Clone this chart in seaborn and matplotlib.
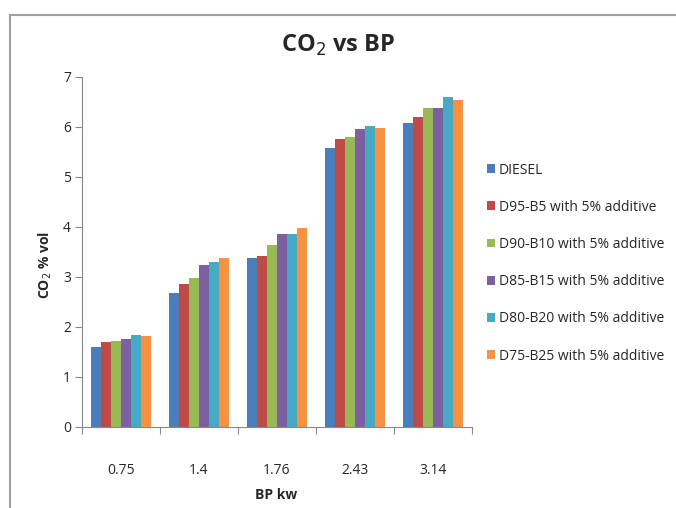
import matplotlib
matplotlib.use("Agg")
import matplotlib.pyplot as plt
import seaborn as sns
import pandas as pd
from matplotlib.patches import Rectangle

bp_labels = ["0.75", "1.4", "1.76", "2.43", "3.14"]
series_names = ["DIESEL", "D95-B5 with 5% additive", "D90-B10 with 5% additive",
                "D85-B15 with 5% additive", "D80-B20 with 5% additive",
                "D75-B25 with 5% additive"]
diesel = [1.61, 2.69, 3.39, 5.59, 6.09]
d95_b5 = [1.70, 2.87, 3.43, 5.77, 6.21]
d90_b10 = [1.73, 2.98, 3.65, 5.81, 6.39]
d85_b15 = [1.76, 3.24, 3.86, 5.96, 6.39]
d80_b20 = [1.85, 3.31, 3.86, 6.02, 6.61]
d75_b25 = [1.82, 3.39, 3.99, 5.99, 6.55]
colors = ["#4A7EBB", "#BE4B48", "#98B954", "#7D60A0", "#46AAC5", "#F69240"]

values = [diesel, d95_b5, d90_b10, d85_b15, d80_b20, d75_b25]
rows = []
for name, vals in zip(series_names, values):
    for bp, v in zip(bp_labels, vals):
        rows.append({"BP": bp, "Fuel": name, "CO2": v})
df = pd.DataFrame(rows)

sns.set_style("white")
plt.rcParams["font.family"] = ["Open Sans", "DejaVu Sans"]

fig = plt.figure(figsize=(6.76, 5.08), dpi=100)
ax = fig.add_axes([82/676, 1-427/508, (472-82)/676, (427-77)/508])

sns.barplot(data=df, x="BP", y="CO2", hue="Fuel", order=bp_labels,
            hue_order=series_names, palette=colors, width=0.78,
            saturation=1, linewidth=0, ax=ax, legend=True)

ax.set_ylim(0, 7)
ax.set_xlim(-0.5, 4.5)
ax.set_yticks(range(0, 8))
ax.tick_params(axis="y", direction="out", length=5, width=0.8, color="#888888",
               labelsize=10, pad=3, left=True)
ax.set_xticks(range(5))
ax.set_xticklabels(bp_labels)
ax.tick_params(axis="x", which="major", length=0, labelsize=10, pad=26)
ax.set_xticks([i - 0.5 for i in range(6)], minor=True)
ax.tick_params(axis="x", which="minor", direction="out", length=5, width=0.8,
               color="#888888", bottom=True)
for s in ["top", "right"]:
    ax.spines[s].set_visible(False)
for s in ["left", "bottom"]:
    ax.spines[s].set_color("#888888")
    ax.spines[s].set_linewidth(0.8)

ax.set_xlabel("")
ax.set_ylabel("")
fig.text(45/676, 1-265/508, "CO$_2$ % vol", rotation=90, ha="center", va="center",
         fontsize=10, fontweight="bold")
fig.text(276/676, 1-495/508, "BP kw", ha="center", va="center",
         fontsize=10, fontweight="bold")
fig.text(338/676, 1-45/508, "CO$_2$ vs BP", ha="center", va="center",
         fontsize=17, fontweight="bold")

handles, labels = ax.get_legend_handles_labels()
ax.legend(handles, labels, loc="upper left", bbox_to_anchor=(474/676, 1-150/508),
          bbox_transform=fig.transFigure, frameon=False, fontsize=10,
          handlelength=0.6, handleheight=0.6, handletextpad=0.3,
          labelspacing=1.6)

fig.patches.append(Rectangle((10/676, -0.05), 1.2, 1 - 15/508 + 0.05,
                             transform=fig.transFigure, fill=False,
                             edgecolor="#A0A0A0", linewidth=1.5))

fig.savefig("out.png", dpi=100, facecolor="white")
